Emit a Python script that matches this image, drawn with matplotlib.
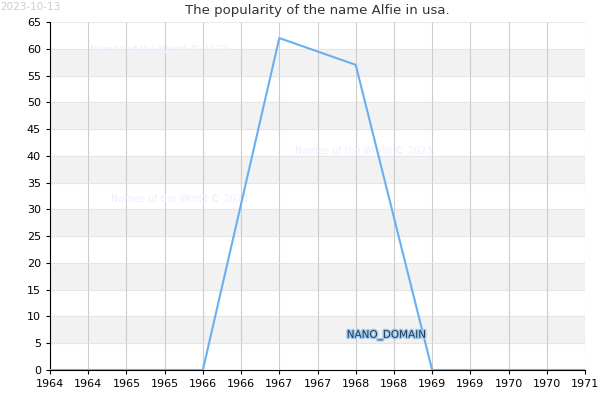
import matplotlib
matplotlib.use("Agg")
import matplotlib.pyplot as plt
import matplotlib.patheffects as pe

years = [1964, 1965, 1966, 1967, 1968, 1969, 1970, 1971]
values = [0, 0, 0, 62, 57, 0, 0, 0]
xticks = [1964 + 0.5 * i for i in range(15)]
xlabels = [str(int(t)) for t in xticks]

fig = plt.figure(figsize=(6, 4), dpi=100)
ax = fig.add_axes([50/600, 30/400, 535/600, 348/400])
for y0 in range(5, 65, 10):
    ax.axhspan(y0, y0 + 5, color="#f2f2f2", zorder=0)
ax.set_xlim(1964, 1971)
ax.set_ylim(0, 65)
ax.set_xticks(xticks)
ax.set_xticklabels(xlabels, fontsize=8)
ax.set_yticks(range(0, 66, 5))
ax.tick_params(labelsize=8, length=3)
ax.grid(axis="x", color="#cccccc", lw=0.8)
ax.grid(axis="y", color="#e0e0e0", lw=0.5)
ax.set_axisbelow(True)
for s in ["top", "right"]:
    ax.spines[s].set_visible(False)
ax.plot(years, values, color="#6ab0f0", lw=1.5, zorder=3)
ax.set_title("The popularity of the name Alfie in usa.", fontsize=9.5, color="#333333")
fig.text(0.0, 0.995, "2023-10-13", fontsize=7.5, color="#cccccc", va="top")
for (x, y) in [(1964.52, 59.3), (1967.2, 40.3), (1964.8, 31.3)]:
    ax.text(x, y, "Names of the World © 2023", fontsize=7, color="#eeeeff", zorder=1)
ax.text(1968.4, 6.5, "NANO_DOMAIN", fontsize=7.5, color="#1a3a5a", ha="center", va="center",
        path_effects=[pe.withStroke(linewidth=2, foreground="#a0c8e8")], zorder=4)
fig.savefig("out.png", dpi=100)
